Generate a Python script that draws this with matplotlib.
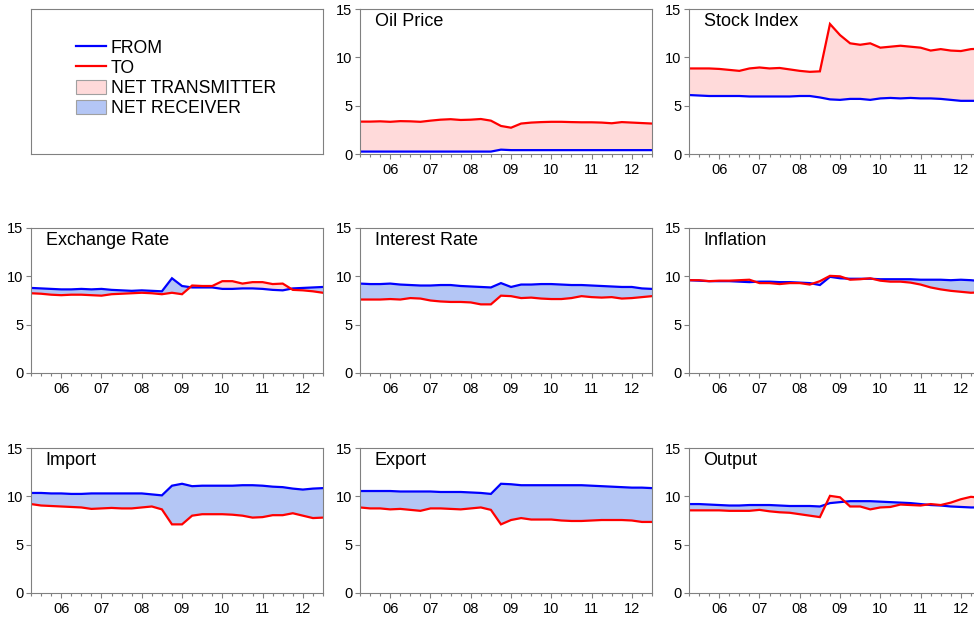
import matplotlib
matplotlib.use("Agg")
import matplotlib.pyplot as plt
from matplotlib.lines import Line2D
from matplotlib.patches import Patch
from matplotlib.ticker import FixedLocator, FuncFormatter, MultipleLocator
import numpy as np

plt.rcParams['font.family'] = ['Liberation Sans', 'DejaVu Sans']

# quarterly dates 2005Q2 .. 2012Q3
dates = [2005.25 + 0.25 * i for i in range(30)]

panels = ["Oil Price", "Stock Index", "Exchange Rate", "Interest Rate",
          "Inflation", "Import", "Export", "Output"]

oil_from = [0.25]*14 + [0.45] + [0.4]*15
oil_to = [3.35, 3.35, 3.38, 3.33, 3.4, 3.38, 3.33, 3.45, 3.55, 3.6, 3.52, 3.55, 3.62, 3.45,
          2.9, 2.72, 3.15, 3.25, 3.3, 3.33, 3.33, 3.3, 3.28, 3.28, 3.25, 3.18, 3.3, 3.25, 3.2, 3.15]

stock_from = [6.1, 6.05, 6.0, 6.0, 6.0, 6.0, 5.95, 5.95, 5.95, 5.95, 5.95, 6.0, 6.0, 5.85,
              5.65, 5.6, 5.7, 5.7, 5.6, 5.75, 5.8, 5.75, 5.8, 5.75, 5.75, 5.7, 5.6, 5.5, 5.5, 5.5]
stock_to = [8.85, 8.85, 8.85, 8.8, 8.7, 8.6, 8.85, 8.95, 8.85, 8.9, 8.75, 8.6, 8.5, 8.55,
            13.45, 12.3, 11.45, 11.3, 11.45, 11.0, 11.1, 11.2, 11.1, 11.0, 10.7, 10.85, 10.7, 10.65, 10.85, 10.9]

fx_from = [8.8, 8.75, 8.7, 8.65, 8.65, 8.7, 8.65, 8.7, 8.6, 8.55, 8.5, 8.55, 8.5, 8.45,
           9.8, 9.0, 8.85, 8.85, 8.85, 8.7, 8.7, 8.75, 8.75, 8.7, 8.6, 8.55, 8.75, 8.8, 8.85, 8.9]
fx_to = [8.25, 8.2, 8.1, 8.05, 8.1, 8.1, 8.05, 8.0, 8.15, 8.2, 8.25, 8.3, 8.25, 8.15,
         8.3, 8.15, 9.05, 9.0, 9.0, 9.5, 9.5, 9.25, 9.4, 9.4, 9.2, 9.25, 8.6, 8.55, 8.45, 8.3]

ir_from = [9.25, 9.2, 9.2, 9.25, 9.15, 9.1, 9.05, 9.05, 9.1, 9.1, 9.0, 8.95, 8.9, 8.85,
           9.3, 8.9, 9.15, 9.15, 9.2, 9.2, 9.15, 9.1, 9.1, 9.05, 9.0, 8.95, 8.9, 8.9, 8.75, 8.7]
ir_to = [7.6, 7.6, 7.6, 7.65, 7.6, 7.75, 7.7, 7.5, 7.4, 7.35, 7.35, 7.3, 7.1, 7.1,
         8.0, 7.95, 7.75, 7.8, 7.7, 7.65, 7.65, 7.75, 7.95, 7.85, 7.8, 7.85, 7.7, 7.75, 7.85, 7.95]

inf_from = [9.6, 9.55, 9.5, 9.5, 9.5, 9.45, 9.4, 9.45, 9.45, 9.4, 9.4, 9.35, 9.3, 9.1,
            9.95, 9.8, 9.75, 9.75, 9.75, 9.7, 9.7, 9.7, 9.7, 9.65, 9.65, 9.65, 9.6, 9.65, 9.6, 9.5]
inf_to = [9.6, 9.6, 9.5, 9.55, 9.55, 9.6, 9.65, 9.3, 9.3, 9.2, 9.3, 9.3, 9.15, 9.5,
          10.05, 10.0, 9.65, 9.7, 9.8, 9.55, 9.45, 9.45, 9.35, 9.15, 8.85, 8.65, 8.5, 8.4, 8.3, 8.35]

imp_from = [10.35, 10.35, 10.3, 10.3, 10.25, 10.25, 10.3, 10.3, 10.3, 10.3, 10.3, 10.3, 10.2, 10.1,
            11.1, 11.3, 11.05, 11.1, 11.1, 11.1, 11.1, 11.15, 11.15, 11.1, 11.0, 10.95, 10.8, 10.7, 10.8, 10.85]
imp_to = [9.2, 9.05, 9.0, 8.95, 8.9, 8.85, 8.7, 8.75, 8.8, 8.75, 8.75, 8.85, 8.95, 8.65,
          7.1, 7.1, 8.0, 8.15, 8.15, 8.15, 8.1, 8.0, 7.8, 7.85, 8.05, 8.05, 8.25, 8.0, 7.75, 7.8]

exp_from = [10.55, 10.55, 10.55, 10.55, 10.5, 10.5, 10.5, 10.5, 10.45, 10.45, 10.45, 10.4, 10.35, 10.25,
            11.3, 11.25, 11.15, 11.15, 11.15, 11.15, 11.15, 11.15, 11.15, 11.1, 11.05, 11.0, 10.95, 10.9, 10.9, 10.85]
exp_to = [8.85, 8.75, 8.75, 8.65, 8.7, 8.6, 8.5, 8.75, 8.75, 8.7, 8.65, 8.75, 8.85, 8.6,
          7.1, 7.55, 7.75, 7.6, 7.6, 7.6, 7.5, 7.45, 7.45, 7.5, 7.55, 7.55, 7.55, 7.5, 7.35, 7.35]

out_from = [9.2, 9.2, 9.15, 9.1, 9.05, 9.05, 9.1, 9.1, 9.1, 9.05, 9.0, 9.0, 9.0, 8.95,
            9.3, 9.4, 9.5, 9.5, 9.5, 9.45, 9.4, 9.35, 9.3, 9.2, 9.1, 9.05, 8.95, 8.9, 8.85, 8.85]
out_to = [8.55, 8.55, 8.55, 8.55, 8.5, 8.5, 8.5, 8.6, 8.45, 8.35, 8.3, 8.15, 8.0, 7.85,
          10.05, 9.9, 8.95, 8.95, 8.65, 8.85, 8.9, 9.15, 9.1, 9.05, 9.2, 9.1, 9.35, 9.7, 9.95, 9.85]

from_series = [oil_from, stock_from, fx_from, ir_from, inf_from, imp_from, exp_from, out_from]
to_series = [oil_to, stock_to, fx_to, ir_to, inf_to, imp_to, exp_to, out_to]

year_ticks = [2006, 2007, 2008, 2009, 2010, 2011, 2012]
y_ticks = [0, 5, 10, 15]

BLUE = "#0000FF"
RED = "#FF0000"
PINK = "#FFDADA"
LBLUE = "#B4C6F5"
GRAY = "#808080"

W, H = 974, 619
fig = plt.figure(figsize=(W / 100, H / 100), dpi=100)

col_left = [31, 360, 689]
row_top = [9, 228, 448]
aw, ah = 292, 145


def make_ax(r, c):
    l = col_left[c] / W
    b = 1 - (row_top[r] + ah) / H
    return fig.add_axes([l, b, aw / W, ah / H])


# legend panel
lax = make_ax(0, 0)
lax.set_xticks([])
lax.set_yticks([])
for s in lax.spines.values():
    s.set_color(GRAY)
    s.set_linewidth(0.8)
handles = [Line2D([], [], color=BLUE, lw=1.6),
           Line2D([], [], color=RED, lw=1.6),
           Patch(facecolor=PINK, edgecolor="#A0A0A0", lw=0.8),
           Patch(facecolor=LBLUE, edgecolor="#A0A0A0", lw=0.8)]
labels = ["FROM", "TO", "NET TRANSMITTER", "NET RECEIVER"]
lax.legend(handles, labels, loc="upper left", bbox_to_anchor=(0.155, 0.79),
           frameon=False, fontsize=12.7, handlelength=1.7, handleheight=0.9,
           handletextpad=0.25, labelspacing=0.15, borderpad=0, borderaxespad=0)

positions = [(0, 1), (0, 2), (1, 0), (1, 1), (1, 2), (2, 0), (2, 1), (2, 2)]
x = np.array(dates)
for name, fr, to, (r, c) in zip(panels, from_series, to_series, positions):
    ax = make_ax(r, c)
    f = np.array(fr)
    t = np.array(to)
    ax.fill_between(x, f, t, where=t >= f, interpolate=True, facecolor=PINK, edgecolor="none", lw=0)
    ax.fill_between(x, f, t, where=f >= t, interpolate=True, facecolor=LBLUE, edgecolor="none", lw=0)
    ax.plot(x, f, color=BLUE, lw=1.6, solid_joinstyle="miter")
    ax.plot(x, t, color=RED, lw=1.6, solid_joinstyle="miter")
    ax.set_xlim(dates[0], dates[-1])
    ax.set_ylim(0, 15)
    ax.xaxis.set_major_locator(FixedLocator(year_ticks))
    ax.xaxis.set_minor_locator(MultipleLocator(0.25))
    ax.xaxis.set_major_formatter(FuncFormatter(lambda v, p: "%02d" % (int(round(v)) % 100)))
    ax.set_yticks(y_ticks)
    ax.tick_params(axis="both", which="major", labelsize=10.5, length=3.5, width=0.8,
                   color=GRAY, direction="out", pad=2)
    ax.tick_params(axis="x", which="minor", length=2.5, width=0.8, color=GRAY, direction="out")
    ax.tick_params(axis="x", which="major", pad=3)
    for s in ax.spines.values():
        s.set_color(GRAY)
        s.set_linewidth(0.8)
    ax.text(0.05, 0.975, name, transform=ax.transAxes, ha="left", va="top", fontsize=13)

fig.savefig("out.png", dpi=100)
